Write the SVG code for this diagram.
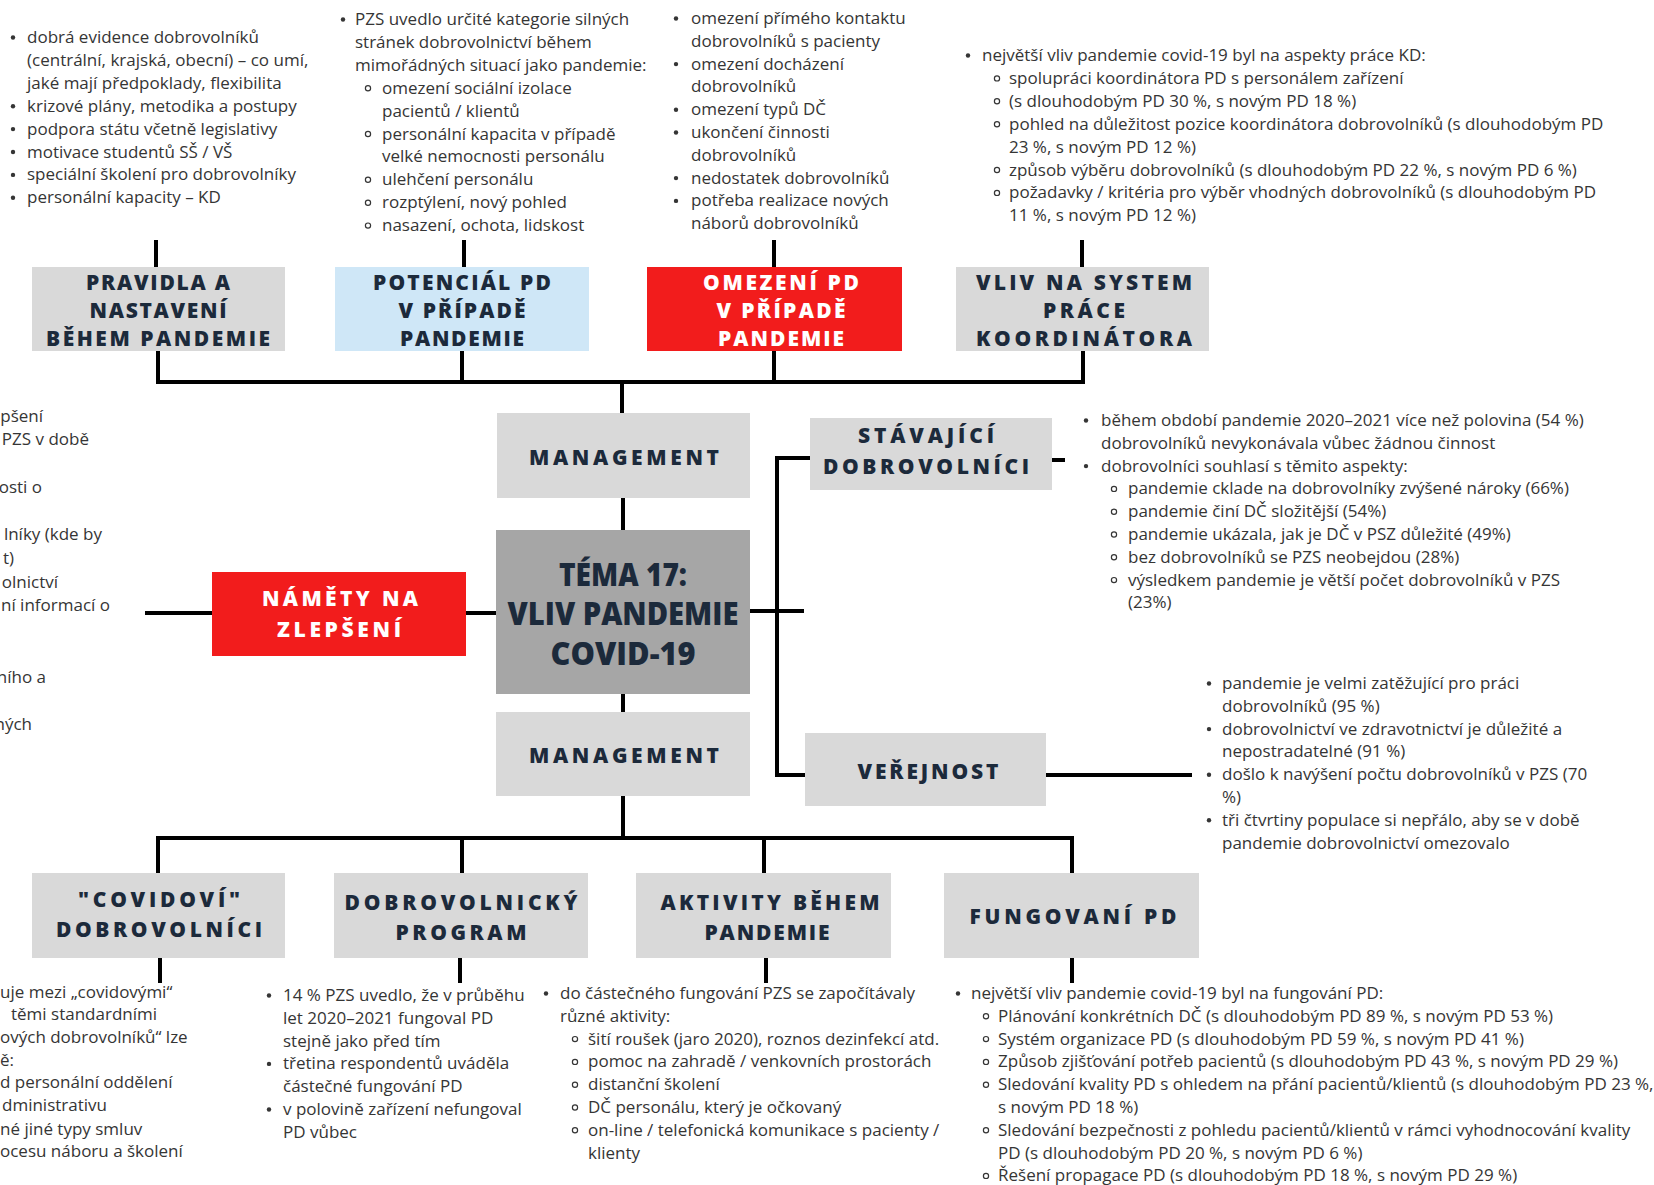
<svg xmlns="http://www.w3.org/2000/svg" width="1654" height="1185" viewBox="0 0 1654 1185">
  <style>
    .t { font-family: "Open Sans", "Liberation Sans", sans-serif; font-size: 17px; fill: #353535; }
    .h { font-family: "Open Sans", "Liberation Sans", sans-serif; font-weight: 800; font-size: 21px; fill: #1c2a3b; text-anchor: middle; }
    .w { fill: #ffffff; }
    .c { font-family: "Open Sans", "Liberation Sans", sans-serif; font-weight: 800; font-size: 32px; fill: #1c2a3b; text-anchor: middle; }
    .gray { fill: #d9d9d9; }
    .blue { fill: #cfe7f7; }
    .red { fill: #f21c1c; }
    .dark { fill: #a6a6a6; }
    .ln { stroke: #000; stroke-width: 4; fill: none; }
    .dot { fill: #353535; }
    .ring { fill: none; stroke: #353535; stroke-width: 1.2; }
  </style>
  <rect width="1654" height="1185" fill="#ffffff"/>

  <!-- connectors -->
  <g id="connectors" class="ln">
    <path d="M156 240V267M464 240V267M774 240V267M1082 240V267"/>
    <path d="M158 351V382M462 351V382M774 351V382M1083 351V382M156 382H1085"/>
    <path d="M622 382V413M623 498V530M623 694V712M623 796V838"/>
    <path d="M156 838H1074M158 838V873M462 838V873M764 838V873M1072 838V873"/>
    <path d="M160 958V983M460 958V983M766 958V983M1072 958V983"/>
    <path d="M145 613H212M466 613H496"/>
    <path d="M750 611H804M777 456V777M775 458H810M775 775H805"/>
    <path d="M1052 460H1065M1046 775H1192"/>
  </g>

  <!-- top row -->
  <g id="pravidla">
    <rect class="gray" x="32" y="267" width="253" height="84"/>
    <text class="h" x="158" y="290" textLength="144">PRAVIDLA A</text>
    <text class="h" x="158" y="318" textLength="137">NASTAVENÍ</text>
    <text class="h" x="158" y="346" textLength="224">BĚHEM PANDEMIE</text>
  </g>
  <g id="potencial">
    <rect class="blue" x="335" y="267" width="254" height="84"/>
    <text class="h" x="462" y="290" textLength="178">POTENCIÁL PD</text>
    <text class="h" x="462" y="318" textLength="127">V PŘÍPADĚ</text>
    <text class="h" x="462" y="346" textLength="124">PANDEMIE</text>
  </g>
  <g id="omezeni">
    <rect class="red" x="647" y="267" width="255" height="84"/>
    <text class="h w" x="781" y="290" textLength="156">OMEZENÍ PD</text>
    <text class="h w" x="781" y="318" textLength="129">V PŘÍPADĚ</text>
    <text class="h w" x="781" y="346" textLength="126">PANDEMIE</text>
  </g>
  <g id="vliv-koordinator">
    <rect class="gray" x="956" y="267" width="253" height="84"/>
    <text class="h" x="1084" y="290" textLength="216">VLIV NA SYSTEM</text>
    <text class="h" x="1084" y="318" textLength="82">PRÁCE</text>
    <text class="h" x="1084" y="346" textLength="216">KOORDINÁTORA</text>
  </g>

  <!-- central column -->
  <g id="management-top">
    <rect class="gray" x="497" y="413" width="253" height="85"/>
    <text class="h" x="624" y="465" textLength="190">MANAGEMENT</text>
  </g>
  <g id="tema">
    <rect class="dark" x="496" y="530" width="254" height="164"/>
    <text class="c" x="623" y="586" textLength="128" lengthAdjust="spacingAndGlyphs">TÉMA 17:</text>
    <text class="c" x="623" y="625" textLength="231" lengthAdjust="spacingAndGlyphs">VLIV PANDEMIE</text>
    <text class="c" x="623" y="665" textLength="145" lengthAdjust="spacingAndGlyphs">COVID-19</text>
  </g>
  <g id="management-bottom">
    <rect class="gray" x="496" y="712" width="254" height="84"/>
    <text class="h" x="624" y="763" textLength="190">MANAGEMENT</text>
  </g>
  <g id="namety">
    <rect class="red" x="212" y="572" width="254" height="84"/>
    <text class="h w" x="340" y="606" textLength="156">NÁMĚTY NA</text>
    <text class="h w" x="339" y="637" textLength="124">ZLEPŠENÍ</text>
  </g>
  <g id="stavajici">
    <rect class="gray" x="810" y="418" width="242" height="72"/>
    <text class="h" x="926" y="443" textLength="136">STÁVAJÍCÍ</text>
    <text class="h" x="926" y="474" textLength="206">DOBROVOLNÍCI</text>
  </g>
  <g id="verejnost">
    <rect class="gray" x="805" y="733" width="241" height="73"/>
    <text class="h" x="928" y="779" textLength="141">VEŘEJNOST</text>
  </g>

  <!-- bottom row -->
  <g id="covidovi">
    <rect class="gray" x="32" y="873" width="253" height="85"/>
    <text class="h" x="159" y="907" textLength="162">"COVIDOVÍ"</text>
    <text class="h" x="159" y="937" textLength="206">DOBROVOLNÍCI</text>
  </g>
  <g id="program">
    <rect class="gray" x="334" y="873" width="254" height="85"/>
    <text class="h" x="461" y="910" textLength="233">DOBROVOLNICKÝ</text>
    <text class="h" x="461" y="940" textLength="131">PROGRAM</text>
  </g>
  <g id="aktivity">
    <rect class="gray" x="636" y="873" width="255" height="85"/>
    <text class="h" x="770" y="910" textLength="219">AKTIVITY BĚHEM</text>
    <text class="h" x="767" y="940" textLength="125">PANDEMIE</text>
  </g>
  <g id="fungovani">
    <rect class="gray" x="944" y="873" width="255" height="85"/>
    <text class="h" x="1073" y="924" textLength="207">FUNGOVANÍ PD</text>
  </g>

  <!-- notes: rules and settings -->
  <g id="notes-pravidla">
    <circle class="dot" cx="13" cy="37.5" r="2.2"/>
    <circle class="dot" cx="13" cy="106.2" r="2.2"/>
    <circle class="dot" cx="13" cy="129.1" r="2.2"/>
    <circle class="dot" cx="13" cy="152" r="2.2"/>
    <circle class="dot" cx="13" cy="174.9" r="2.2"/>
    <circle class="dot" cx="13" cy="197.8" r="2.2"/>
    <text class="t" x="27" y="43">dobrá evidence dobrovolníků</text>
    <text class="t" x="27" y="65.9">(centrální, krajská, obecní) – co umí,</text>
    <text class="t" x="27" y="88.8">jaké mají předpoklady, flexibilita</text>
    <text class="t" x="27" y="111.7">krizové plány, metodika a postupy</text>
    <text class="t" x="27" y="134.6">podpora státu včetně legislativy</text>
    <text class="t" x="27" y="157.5">motivace studentů SŠ / VŠ</text>
    <text class="t" x="27" y="180.4">speciální školení pro dobrovolníky</text>
    <text class="t" x="27" y="203.3">personální kapacity – KD</text>
  </g>

  <g id="notes-potencial">
    <circle class="dot" cx="343" cy="19.5" r="2.2"/>
    <circle class="ring" cx="368" cy="88.2" r="2.6"/>
    <circle class="ring" cx="368" cy="134" r="2.6"/>
    <circle class="ring" cx="368" cy="179.8" r="2.6"/>
    <circle class="ring" cx="368" cy="202.7" r="2.6"/>
    <circle class="ring" cx="368" cy="225.6" r="2.6"/>
    <text class="t" x="355" y="25">PZS uvedlo určité kategorie silných</text>
    <text class="t" x="355" y="47.9">stránek dobrovolnictví během</text>
    <text class="t" x="355" y="70.8">mimořádných situací jako pandemie:</text>
    <text class="t" x="382" y="93.7">omezení sociální izolace</text>
    <text class="t" x="382" y="116.6">pacientů / klientů</text>
    <text class="t" x="382" y="139.5">personální kapacita v případě</text>
    <text class="t" x="382" y="162.4">velké nemocnosti personálu</text>
    <text class="t" x="382" y="185.3">ulehčení personálu</text>
    <text class="t" x="382" y="208.2">rozptýlení, nový pohled</text>
    <text class="t" x="382" y="231.1">nasazení, ochota, lidskost</text>
  </g>

  <g id="notes-omezeni">
    <circle class="dot" cx="676" cy="18.5" r="2.2"/>
    <circle class="dot" cx="676" cy="64.1" r="2.2"/>
    <circle class="dot" cx="676" cy="109.7" r="2.2"/>
    <circle class="dot" cx="676" cy="132.5" r="2.2"/>
    <circle class="dot" cx="676" cy="178.1" r="2.2"/>
    <circle class="dot" cx="676" cy="200.9" r="2.2"/>
    <text class="t" x="691" y="24">omezení přímého kontaktu</text>
    <text class="t" x="691" y="46.8">dobrovolníků s pacienty</text>
    <text class="t" x="691" y="69.6">omezení docházení</text>
    <text class="t" x="691" y="92.4">dobrovolníků</text>
    <text class="t" x="691" y="115.2">omezení typů DČ</text>
    <text class="t" x="691" y="138">ukončení činnosti</text>
    <text class="t" x="691" y="160.8">dobrovolníků</text>
    <text class="t" x="691" y="183.6">nedostatek dobrovolníků</text>
    <text class="t" x="691" y="206.4">potřeba realizace nových</text>
    <text class="t" x="691" y="229.2">náborů dobrovolníků</text>
  </g>

  <g id="notes-koordinator">
    <circle class="dot" cx="968" cy="55.5" r="2.2"/>
    <circle class="ring" cx="997" cy="78.4" r="2.6"/>
    <circle class="ring" cx="997" cy="101.3" r="2.6"/>
    <circle class="ring" cx="997" cy="124.2" r="2.6"/>
    <circle class="ring" cx="997" cy="170" r="2.6"/>
    <circle class="ring" cx="997" cy="192.9" r="2.6"/>
    <text class="t" x="982" y="61">největší vliv pandemie covid-19 byl na aspekty práce KD:</text>
    <text class="t" x="1009" y="83.9">spolupráci koordinátora PD s personálem zařízení</text>
    <text class="t" x="1009" y="106.8">(s dlouhodobým PD 30 %, s novým PD 18 %)</text>
    <text class="t" x="1009" y="129.7">pohled na důležitost pozice koordinátora dobrovolníků (s dlouhodobým PD</text>
    <text class="t" x="1009" y="152.6">23 %, s novým PD 12 %)</text>
    <text class="t" x="1009" y="175.5">způsob výběru dobrovolníků (s dlouhodobým PD 22 %, s novým PD 6 %)</text>
    <text class="t" x="1009" y="198.4">požadavky / kritéria pro výběr vhodných dobrovolníků (s dlouhodobým PD</text>
    <text class="t" x="1009" y="221.3">11 %, s novým PD 12 %)</text>
  </g>

  <!-- notes running off the left edge -->
  <g id="notes-namety" text-anchor="end">
    <text class="t" x="43" y="421.6">pšení</text>
    <text class="t" x="89" y="445.3">PZS v době</text>
    <text class="t" x="42" y="492.8">osti o</text>
    <text class="t" x="102" y="540.3">lníky (kde by</text>
    <text class="t" x="14" y="564">t)</text>
    <text class="t" x="58" y="587.7">olnictví</text>
    <text class="t" x="110" y="611.4">ní informací o</text>
    <text class="t" x="46" y="682.6">ního a</text>
    <text class="t" x="32" y="730.1">ných</text>
  </g>

  <g id="notes-stavajici">
    <circle class="dot" cx="1086" cy="420.5" r="2.2"/>
    <circle class="dot" cx="1086" cy="466.1" r="2.2"/>
    <circle class="ring" cx="1114" cy="488.9" r="2.6"/>
    <circle class="ring" cx="1114" cy="511.7" r="2.6"/>
    <circle class="ring" cx="1114" cy="534.5" r="2.6"/>
    <circle class="ring" cx="1114" cy="557.3" r="2.6"/>
    <circle class="ring" cx="1114" cy="580.1" r="2.6"/>
    <text class="t" x="1101" y="426">během období pandemie 2020–2021 více než polovina (54 %)</text>
    <text class="t" x="1101" y="448.8">dobrovolníků nevykonávala vůbec žádnou činnost</text>
    <text class="t" x="1101" y="471.6">dobrovolníci souhlasí s těmito aspekty:</text>
    <text class="t" x="1128" y="494.4">pandemie cklade na dobrovolníky zvýšené nároky (66%)</text>
    <text class="t" x="1128" y="517.2">pandemie činí DČ složitější (54%)</text>
    <text class="t" x="1128" y="540">pandemie ukázala, jak je DČ v PSZ důležité (49%)</text>
    <text class="t" x="1128" y="562.8">bez dobrovolníků se PZS neobejdou (28%)</text>
    <text class="t" x="1128" y="585.6">výsledkem pandemie je větší počet dobrovolníků v PZS</text>
    <text class="t" x="1128" y="608.4">(23%)</text>
  </g>

  <g id="notes-verejnost">
    <circle class="dot" cx="1209" cy="683.5" r="2.2"/>
    <circle class="dot" cx="1209" cy="729.1" r="2.2"/>
    <circle class="dot" cx="1209" cy="774.7" r="2.2"/>
    <circle class="dot" cx="1209" cy="820.3" r="2.2"/>
    <text class="t" x="1222" y="689">pandemie je velmi zatěžující pro práci</text>
    <text class="t" x="1222" y="711.8">dobrovolníků (95 %)</text>
    <text class="t" x="1222" y="734.6">dobrovolnictví ve zdravotnictví je důležité a</text>
    <text class="t" x="1222" y="757.4">nepostradatelné (91 %)</text>
    <text class="t" x="1222" y="780.2">došlo k navýšení počtu dobrovolníků v PZS (70</text>
    <text class="t" x="1222" y="803">%)</text>
    <text class="t" x="1222" y="825.8">tři čtvrtiny populace si nepřálo, aby se v době</text>
    <text class="t" x="1222" y="848.6">pandemie dobrovolnictví omezovalo</text>
  </g>

  <!-- bottom notes -->
  <g id="notes-covidovi">
    <text class="t" x="0" y="997.5">uje mezi „covidovými“</text>
    <text class="t" x="11" y="1019.7">těmi standardními</text>
    <text class="t" x="0" y="1042.9">ových dobrovolníků“ lze</text>
    <text class="t" x="0" y="1066">ě:</text>
    <text class="t" x="0" y="1088">d personální oddělení</text>
    <text class="t" x="2" y="1111">dministrativu</text>
    <text class="t" x="0" y="1134.6">né jiné typy smluv</text>
    <text class="t" x="0" y="1156.8">ocesu náboru a školení</text>
  </g>

  <g id="notes-program">
    <circle class="dot" cx="269" cy="995.5" r="2.2"/>
    <circle class="dot" cx="269" cy="1063.9" r="2.2"/>
    <circle class="dot" cx="269" cy="1109.5" r="2.2"/>
    <text class="t" x="283" y="1001">14 % PZS uvedlo, že v průběhu</text>
    <text class="t" x="283" y="1023.8">let 2020–2021 fungoval PD</text>
    <text class="t" x="283" y="1046.6">stejně jako před tím</text>
    <text class="t" x="283" y="1069.4">třetina respondentů uváděla</text>
    <text class="t" x="283" y="1092.2">částečné fungování PD</text>
    <text class="t" x="283" y="1115">v polovině zařízení nefungoval</text>
    <text class="t" x="283" y="1137.8">PD vůbec</text>
  </g>

  <g id="notes-aktivity">
    <circle class="dot" cx="546" cy="993.5" r="2.2"/>
    <circle class="ring" cx="575" cy="1039.1" r="2.6"/>
    <circle class="ring" cx="575" cy="1061.9" r="2.6"/>
    <circle class="ring" cx="575" cy="1084.7" r="2.6"/>
    <circle class="ring" cx="575" cy="1107.5" r="2.6"/>
    <circle class="ring" cx="575" cy="1130.3" r="2.6"/>
    <text class="t" x="560" y="999">do částečného fungování PZS se započítávaly</text>
    <text class="t" x="560" y="1021.8">různé aktivity:</text>
    <text class="t" x="588" y="1044.6">šití roušek (jaro 2020), roznos dezinfekcí atd.</text>
    <text class="t" x="588" y="1067.4">pomoc na zahradě / venkovních prostorách</text>
    <text class="t" x="588" y="1090.2">distanční školení</text>
    <text class="t" x="588" y="1113">DČ personálu, který je očkovaný</text>
    <text class="t" x="588" y="1135.8">on-line / telefonická komunikace s pacienty /</text>
    <text class="t" x="588" y="1158.6">klienty</text>
  </g>

  <g id="notes-fungovani">
    <circle class="dot" cx="958" cy="993.5" r="2.2"/>
    <circle class="ring" cx="986" cy="1016.3" r="2.6"/>
    <circle class="ring" cx="986" cy="1039.1" r="2.6"/>
    <circle class="ring" cx="986" cy="1061.9" r="2.6"/>
    <circle class="ring" cx="986" cy="1084.7" r="2.6"/>
    <circle class="ring" cx="986" cy="1130.3" r="2.6"/>
    <circle class="ring" cx="986" cy="1175.9" r="2.6"/>
    <text class="t" x="971" y="999">největší vliv pandemie covid-19 byl na fungování PD:</text>
    <text class="t" x="998" y="1021.8">Plánování konkrétních DČ (s dlouhodobým PD 89 %, s novým PD 53 %)</text>
    <text class="t" x="998" y="1044.6">Systém organizace PD (s dlouhodobým PD 59 %, s novým PD 41 %)</text>
    <text class="t" x="998" y="1067.4">Způsob zjišťování potřeb pacientů (s dlouhodobým PD 43 %, s novým PD 29 %)</text>
    <text class="t" x="998" y="1090.2">Sledování kvality PD s ohledem na přání pacientů/klientů (s dlouhodobým PD 23 %,</text>
    <text class="t" x="998" y="1113">s novým PD 18 %)</text>
    <text class="t" x="998" y="1135.8">Sledování bezpečnosti z pohledu pacientů/klientů v rámci vyhodnocování kvality</text>
    <text class="t" x="998" y="1158.6">PD (s dlouhodobým PD 20 %, s novým PD 6 %)</text>
    <text class="t" x="998" y="1181.4">Řešení propagace PD (s dlouhodobým PD 18 %, s novým PD 29 %)</text>
  </g>
</svg>
